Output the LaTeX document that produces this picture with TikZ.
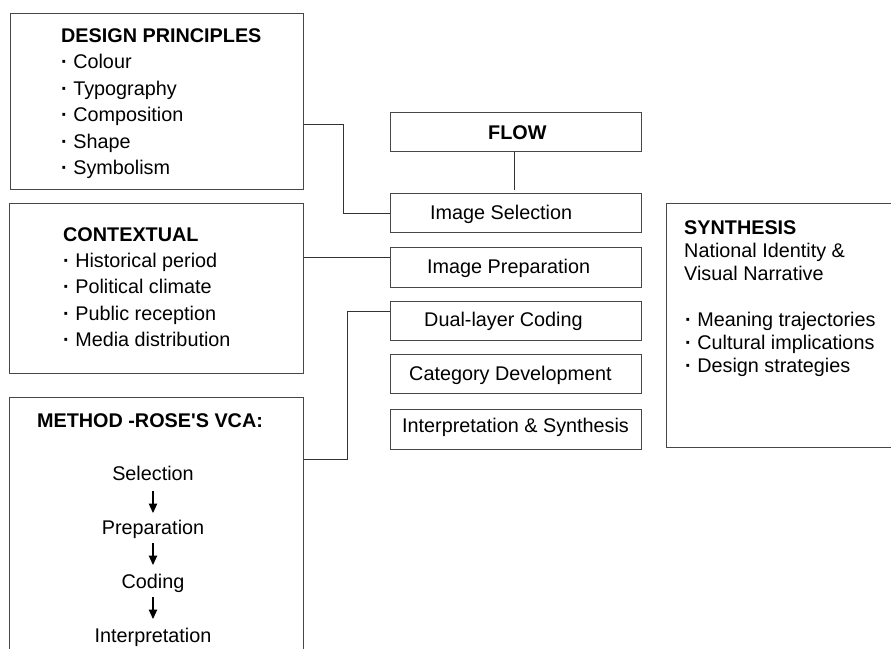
\documentclass[tikz,border=0pt]{standalone}
\usepackage{fontspec}
\setmainfont{Liberation Sans}
\usetikzlibrary{arrows.meta}
\newcommand{\bul}{\textbf{·}\ }
\begin{document}
\begin{tikzpicture}[x=1pt,y=-1pt,
  box/.style={draw=black!72, line width=1.2pt, rectangle, inner sep=0pt, anchor=north west},
  conn/.style={draw=black!80, line width=1pt},
  txt/.style={anchor=base west, inner sep=0pt, font=\fontsize{19.8}{23}\selectfont},
  ctxt/.style={anchor=base, inner sep=0pt, font=\fontsize{19.8}{23}\selectfont},
  btxt/.style={anchor=base west, inner sep=0pt, font=\fontsize{19.8}{23}\selectfont\bfseries},
  down/.style={draw=black, line width=1.1pt, -{Triangle[width=8.5pt,length=9.5pt]}}
]
\clip (0,0) rectangle (891,648);
\fill[white] (0,0) rectangle (891,648);

% Boxes
\node[box, minimum width=293pt, minimum height=176pt] (dp) at (10,13) {};
\node[box, minimum width=294pt, minimum height=170pt] (ctx) at (9,203) {};
\node[box, minimum width=294pt, minimum height=320pt] (meth) at (9,397) {};
\node[box, minimum width=251pt, minimum height=39pt] (flow) at (390,112) {};
\node[box, minimum width=251pt, minimum height=39pt] (sel) at (390,193) {};
\node[box, minimum width=251pt, minimum height=40pt] (prep) at (390,247) {};
\node[box, minimum width=251pt, minimum height=39pt] (dual) at (390,301) {};
\node[box, minimum width=251pt, minimum height=39pt] (cat) at (390,354) {};
\node[box, minimum width=251pt, minimum height=40pt] (interp) at (390,409) {};
\node[box, minimum width=260pt, minimum height=244pt] (syn) at (666,203) {};

% Design principles text
\node[btxt] (dpt) at (61,42) {DESIGN PRINCIPLES};
\node[txt] (dp1) at (61,68.5) {\bul Colour};
\node[txt] (dp2) at (61,95) {\bul Typography};
\node[txt] (dp3) at (61,121.5) {\bul Composition};
\node[txt] (dp4) at (61,148) {\bul Shape};
\node[txt] (dp5) at (61,174.5) {\bul Symbolism};

% Contextual text
\node[btxt] (ctxt0) at (63,241) {CONTEXTUAL};
\node[txt] (ct1) at (63,267) {\bul Historical period};
\node[txt] (ct2) at (63,293.5) {\bul Political climate};
\node[txt] (ct3) at (63,320) {\bul Public reception};
\node[txt] (ct4) at (63,346.5) {\bul Media distribution};

% Method text
\node[anchor=base, inner sep=0pt, font=\fontsize{19.8}{23}\selectfont\bfseries] (mt) at (150,427) {METHOD -ROSE\textquotesingle S VCA:};
\node[ctxt] (m1) at (153,480) {Selection};
\node[ctxt] (m2) at (153,534) {Preparation};
\node[ctxt] (m3) at (153,588) {Coding};
\node[ctxt] (m4) at (153,642) {Interpretation};
\coordinate (a1s) at (153,491); \coordinate (a1e) at (153,513);
\coordinate (a2s) at (153,543); \coordinate (a2e) at (153,565);
\coordinate (a3s) at (153,597); \coordinate (a3e) at (153,619);
\draw[down] (a1s) -- (a1e);
\draw[down] (a2s) -- (a2e);
\draw[down] (a3s) -- (a3e);

% Flow text
\node[btxt] (flowt) at (488,139) {FLOW};
\node[txt] (selt) at (430,219) {Image Selection};
\node[txt] (prept) at (427,273) {Image Preparation};
\node[txt] (dualt) at (424,326) {Dual-layer Coding};
\node[txt] (catt) at (409,380) {Category Development};
\node[txt] (interpt) at (402,432) {Interpretation \& Synthesis};

% Synthesis text
\node[btxt] (synt) at (684,234) {SYNTHESIS};
\node[txt] (s1) at (684,257) {National Identity \&};
\node[txt] (s2) at (684,280) {Visual Narrative};
\node[txt] (s3) at (685,326) {\bul Meaning trajectories};
\node[txt] (s4) at (685,349) {\bul Cultural implications};
\node[txt] (s5) at (685,372) {\bul Design strategies};

% Connectors
\coordinate (k1) at (0,124);
\coordinate (k2) at (0,257);
\coordinate (k3) at (0,459);
\coordinate (k4) at (0,311);
\coordinate (j1) at (343,0);
\coordinate (j3) at (347,0);
\coordinate (fx) at (514,0);
\draw[conn] (dp.east |- k1) -- (j1 |- k1) |- (sel.west);
\draw[conn] (ctx.east |- k2) -- (prep.west |- k2);
\draw[conn] (meth.east |- k3) -- (j3 |- k3) |- (dual.west |- k4);
\draw[conn, shorten >=3.5pt] (fx |- flow.south) -- (fx |- sel.north);
\end{tikzpicture}
\end{document}
